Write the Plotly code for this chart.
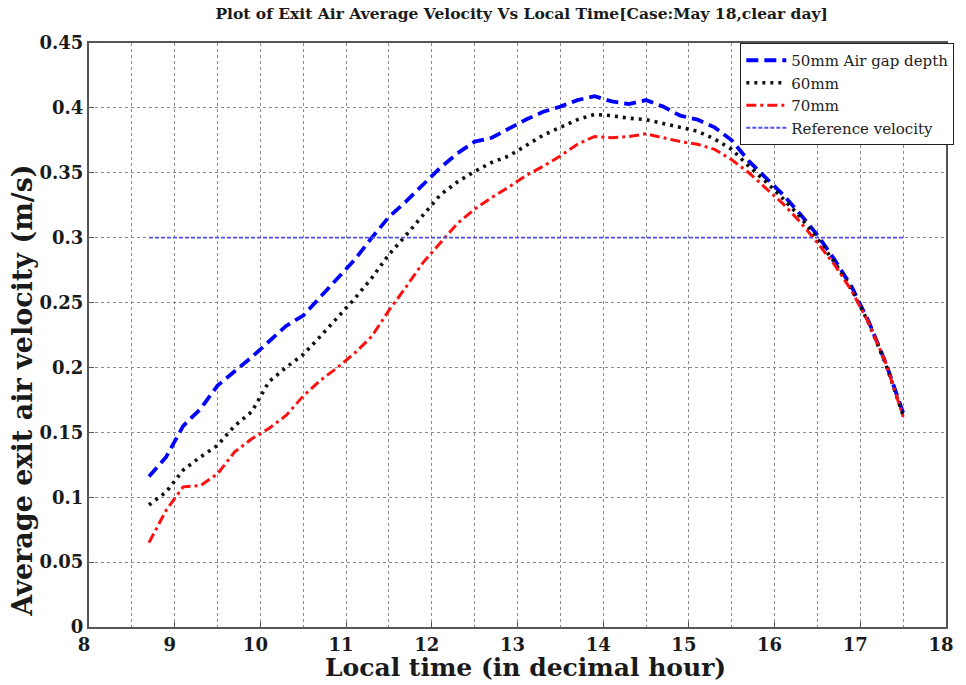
import plotly.graph_objects as go

# Local time (decimal hours)
time_h = [8.7, 8.9, 9.1, 9.3, 9.5, 9.7, 9.9, 10.1, 10.3, 10.5, 10.7, 10.9, 11.1, 11.3,
          11.5, 11.7, 11.9, 12.1, 12.3, 12.5, 12.7, 12.9, 13.1, 13.3, 13.5, 13.7, 13.9,
          14.1, 14.3, 14.5, 14.7, 14.9, 15.1, 15.3, 15.5, 15.7, 15.9, 16.1, 16.3, 16.5,
          16.7, 16.9, 17.1, 17.3, 17.5]

# Exit air average velocity (m/s) for each air gap depth
v_50mm = [0.116, 0.131, 0.155, 0.168, 0.186, 0.197, 0.208, 0.220, 0.232, 0.240, 0.254,
          0.268, 0.283, 0.300, 0.316, 0.328, 0.341, 0.354, 0.365, 0.374, 0.377, 0.384,
          0.391, 0.397, 0.401, 0.406, 0.409, 0.405, 0.403, 0.406, 0.401, 0.394, 0.391,
          0.385, 0.375, 0.359, 0.346, 0.333, 0.318, 0.302, 0.283, 0.262, 0.235, 0.203,
          0.165]
v_60mm = [0.094, 0.104, 0.121, 0.131, 0.140, 0.155, 0.166, 0.189, 0.200, 0.210, 0.224,
          0.238, 0.253, 0.269, 0.287, 0.302, 0.317, 0.333, 0.343, 0.351, 0.358, 0.363,
          0.371, 0.379, 0.385, 0.391, 0.395, 0.394, 0.392, 0.391, 0.388, 0.385, 0.382,
          0.376, 0.368, 0.355, 0.343, 0.330, 0.316, 0.299, 0.281, 0.260, 0.234, 0.202,
          0.163]
v_70mm = [0.065, 0.090, 0.108, 0.109, 0.118, 0.135, 0.145, 0.153, 0.163, 0.178, 0.190,
          0.200, 0.211, 0.224, 0.244, 0.262, 0.281, 0.296, 0.311, 0.322, 0.331, 0.339,
          0.348, 0.355, 0.363, 0.372, 0.378, 0.377, 0.378, 0.380, 0.377, 0.374, 0.372,
          0.368, 0.360, 0.350, 0.338, 0.326, 0.312, 0.296, 0.279, 0.259, 0.234, 0.203,
          0.162]
ref_velocity = 0.3

series_names = ["50mm Air gap depth", "60mm", "70mm", "Reference velocity"]

x_ticks = list(range(8, 19))
y_ticks = [0, 0.05, 0.1, 0.15, 0.2, 0.25, 0.3, 0.35, 0.4, 0.45]

SERIF = "DejaVu Serif, Liberation Serif, serif"

fig = go.Figure()
fig.add_trace(go.Scatter(x=time_h, y=v_50mm, mode="lines", name=series_names[0],
                         line=dict(color="#0000ff", width=3.8, dash="12px,6px")))
fig.add_trace(go.Scatter(x=time_h, y=v_60mm, mode="lines", name=series_names[1],
                         line=dict(color="#111111", width=3.6, dash="3px,5px")))
fig.add_trace(go.Scatter(x=time_h, y=v_70mm, mode="lines", name=series_names[2],
                         line=dict(color="#ff1010", width=3.0, dash="10px,4px,3px,4px")))
fig.add_trace(go.Scatter(x=[time_h[0], time_h[-1]], y=[ref_velocity, ref_velocity],
                         mode="lines", name=series_names[3],
                         line=dict(color="#5050ee", width=1.8, dash="4px,2px")))

grid_col = "#8a8a8a"
fig.update_layout(
    width=966, height=685,
    margin=dict(l=89, r=20, t=43, b=58),
    paper_bgcolor="white", plot_bgcolor="white",
    font=dict(family=SERIF, color="#1a1a1a"),
    title=dict(text="<b>Plot of Exit Air Average Velocity Vs Local Time[Case:May 18,clear day]</b>",
               x=0.54, xanchor="center", y=0.98, yanchor="middle",
               font=dict(size=15.5, family=SERIF)),
    showlegend=True,
    legend=dict(x=0.76, xanchor="left", y=1.0, yanchor="top",
                bgcolor="white", bordercolor="#222222", borderwidth=1,
                font=dict(size=15, family=SERIF, color="#222222"),
                itemwidth=40, tracegroupgap=0),
    xaxis=dict(range=[8, 18], tickvals=x_ticks,
               ticktext=[f"<b>{t}</b>" for t in x_ticks],
               showgrid=True, gridcolor=grid_col, griddash="dot", gridwidth=1,
               minor=dict(dtick=0.5, showgrid=True, gridcolor=grid_col, griddash="dot"),
               showline=True, linecolor="#555555", linewidth=2, mirror=True,
               ticks="inside", ticklen=5, tickcolor="#555555",
               ticklabelshift=-5,
               tickfont=dict(size=18, family=SERIF),
               zeroline=False),
    yaxis=dict(range=[0, 0.45], tickvals=y_ticks,
               ticktext=[f"<b>{v:g}</b>" for v in y_ticks],
               showgrid=True, gridcolor=grid_col, griddash="dot", gridwidth=1,
               showline=True, linecolor="#555555", linewidth=2, mirror=True,
               ticks="inside", ticklen=5, tickcolor="#555555",
               tickfont=dict(size=18, family=SERIF),
               zeroline=False),
)

# Axis labels placed as annotations so their position can be set freely
fig.add_annotation(text="<b>Local time (in decimal hour)</b>", xref="paper", yref="paper",
                   x=0.509, y=-0.07, xanchor="center", yanchor="middle", showarrow=False,
                   font=dict(size=25, family=SERIF, color="#1a1a1a"))
fig.add_annotation(text="<b>Average exit air velocity (m/s)</b>", xref="paper", yref="paper",
                   x=-0.078, y=0.405, xanchor="center", yanchor="middle", showarrow=False,
                   textangle=-90, font=dict(size=27, family=SERIF, color="#1a1a1a"))

fig.write_html("out.html")
